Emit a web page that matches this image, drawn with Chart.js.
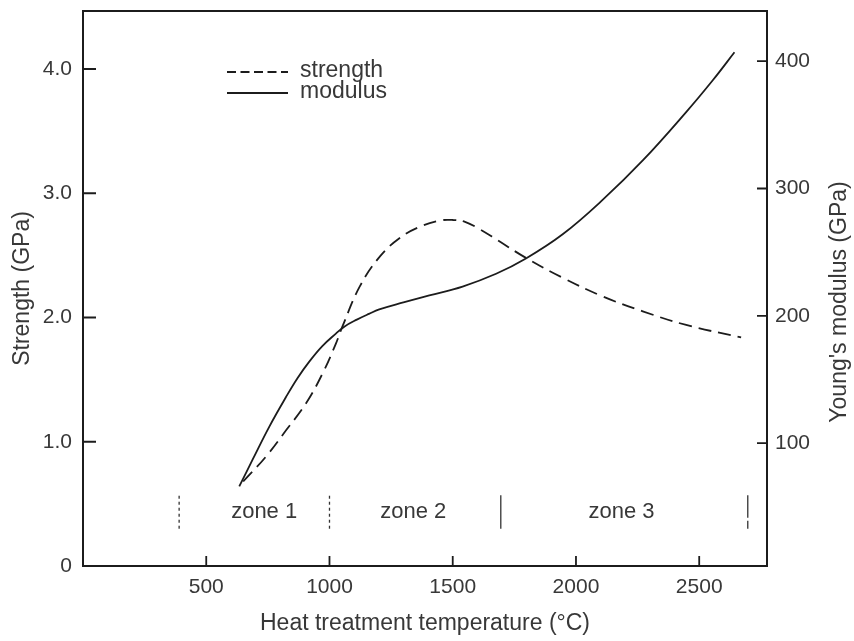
<!DOCTYPE html>
<html><head><meta charset="utf-8">
<script src="https://cdn.jsdelivr.net/npm/chart.js@4.4.0/dist/chart.umd.min.js"></script>
<style>html,body{margin:0;padding:0;background:#fff;}#wrap{width:854px;height:641px;}</style>
</head><body><div id="wrap"><canvas id="c" width="854" height="641"></canvas></div>
<script>
// ---- data ----
const strengthTemps = [650, 742, 823, 905, 972, 1026, 1053, 1123, 1204, 1285, 1366, 1447, 1500, 1550, 1610, 1676, 1797, 1946, 2108, 2271, 2447, 2670];
const strengthGPa   = [0.68, 0.88, 1.09, 1.31, 1.55, 1.79, 1.93, 2.25, 2.49, 2.64, 2.73, 2.78, 2.785, 2.77, 2.71, 2.63, 2.48, 2.32, 2.17, 2.05, 1.94, 1.84];
const modulusTemps  = [634, 688, 756, 823, 870, 918, 970, 1026, 1060, 1111, 1160, 1202, 1300, 1405, 1540, 1676, 1797, 1946, 2108, 2271, 2447, 2555, 2643];
const modulusGPa    = [66, 87, 113, 136, 151, 164, 176, 186, 191.5, 197, 201.5, 205, 210.5, 216, 223, 233, 245, 264, 291, 322, 360, 385, 407];
const zoneBounds    = [390, 1000, 1695, 2697];
const zoneMarkerY   = [0.30, 0.57];
const zoneNames     = ['zone 1', 'zone 2', 'zone 3'];
const zoneCenters   = [735, 1340, 2185];
const zoneLabelY    = 0.435;
const xTicks        = [500, 1000, 1500, 2000, 2500];
const yTicks        = [0, 1, 2, 3, 4];
const y2Ticks       = [100, 200, 300, 400];
const seriesNames   = ['strength', 'modulus'];
const xTitle  = 'Heat treatment temperature (°C)';
const yTitle  = 'Strength (GPa)';
const y2Title = "Young's modulus (GPa)";

// ---- style ----
const FONT = "'Liberation Sans', Arial, Helvetica, sans-serif";
const TXT = '#383838';
const INK = '#1c1c1c';
const markerDashes = [[3, 3], [3, 3], [], [8, 3, 28]];

const toPts = (xs, ys) => xs.map((x, i) => ({x: x, y: ys[i]}));

const datasets = [
  {label: seriesNames[0], data: toPts(strengthTemps, strengthGPa), yAxisID: 'y',
   borderColor: INK, borderWidth: 1.8, borderDash: [13, 7], pointRadius: 0,
   tension: 0.4, fill: false},
  {label: seriesNames[1], data: toPts(modulusTemps, modulusGPa), yAxisID: 'y2',
   borderColor: INK, borderWidth: 1.8, pointRadius: 0,
   tension: 0.4, fill: false}
];
zoneBounds.forEach((b, i) => {
  datasets.push({label: '', data: [{x: b, y: zoneMarkerY[0]}, {x: b, y: zoneMarkerY[1]}],
    yAxisID: 'y', borderColor: '#333', borderWidth: 1.3, borderDash: markerDashes[i], pointRadius: 0});
});

const fixTicks = vals => s => { s.ticks = vals.map(v => ({value: v})); };

const decor = {
  id: 'decor',
  afterDraw(chart) {
    const ctx = chart.ctx, a = chart.chartArea;
    const sx = chart.scales.x, sy = chart.scales.y, sy2 = chart.scales.y2;
    ctx.save();
    // top frame line
    ctx.strokeStyle = INK; ctx.lineWidth = 2;
    ctx.beginPath(); ctx.moveTo(a.left - 1, a.top); ctx.lineTo(a.right + 1, a.top); ctx.stroke();
    // inward tick marks
    ctx.lineWidth = 1.8;
    ctx.beginPath();
    sx.ticks.forEach(t => { const p = sx.getPixelForValue(t.value); ctx.moveTo(p, a.bottom); ctx.lineTo(p, a.bottom - 10); });
    sy.ticks.forEach(t => { if (t.value === 0) return; const p = sy.getPixelForValue(t.value); ctx.moveTo(a.left, p); ctx.lineTo(a.left + 13, p); });
    sy2.ticks.forEach(t => { const p = sy2.getPixelForValue(t.value); ctx.moveTo(a.right, p); ctx.lineTo(a.right - 10, p); });
    ctx.stroke();
    // zone labels
    ctx.fillStyle = TXT; ctx.font = '22px ' + FONT;
    ctx.textAlign = 'center'; ctx.textBaseline = 'middle';
    zoneNames.forEach((n, i) => ctx.fillText(n, sx.getPixelForValue(zoneCenters[i]), sy.getPixelForValue(zoneLabelY)));
    // legend (inside plot)
    const legendRows = [72, 93];
    [0, 1].forEach(i => {
      const ds = chart.data.datasets[i];
      ctx.strokeStyle = ds.borderColor; ctx.lineWidth = 1.8;
      ctx.setLineDash(i === 0 ? [9, 4.5] : []);
      ctx.beginPath(); ctx.moveTo(227, legendRows[i]); ctx.lineTo(288, legendRows[i]); ctx.stroke();
      ctx.setLineDash([]);
      ctx.textAlign = 'left'; ctx.font = '23px ' + FONT;
      ctx.fillText(ds.label, 300, legendRows[i] - 1);
    });
    // right axis title (reads bottom-to-top)
    ctx.translate(840, 302); ctx.rotate(-Math.PI / 2);
    ctx.textAlign = 'center'; ctx.textBaseline = 'middle'; ctx.font = '23px ' + FONT;
    ctx.fillText(y2Title, 0, 0);
    ctx.restore();
  }
};

new Chart(document.getElementById('c'), {
  type: 'line',
  data: {datasets: datasets},
  options: {
    responsive: false, animation: false,
    layout: {padding: {top: 11, left: 0, right: 0, bottom: 0}},
    plugins: {legend: {display: false}, tooltip: {enabled: false}},
    scales: {
      x: {type: 'linear', position: 'bottom', min: 0, max: 2775,
        afterBuildTicks: fixTicks(xTicks),
        afterFit: s => { s.height = 75; s.paddingLeft = 0; s.paddingRight = 0; },
        grid: {display: false, drawTicks: false},
        border: {display: true, color: INK, width: 2},
        ticks: {padding: 9, autoSkip: false, maxRotation: 0, color: TXT, font: {family: FONT, size: 21},
          callback: v => String(v)},
        title: {display: true, text: xTitle, color: TXT, font: {family: FONT, size: 23}, padding: {top: 0, bottom: 4}}
      },
      y: {type: 'linear', position: 'left', min: 0, max: 4.467,
        afterBuildTicks: fixTicks(yTicks),
        afterFit: s => { s.width = 83; s.paddingTop = 0; s.paddingBottom = 0; },
        grid: {display: false, drawTicks: false},
        border: {display: true, color: INK, width: 2},
        ticks: {padding: 11, autoSkip: false, color: TXT, font: {family: FONT, size: 21},
          callback: v => v === 0 ? '0' : v.toFixed(1)},
        title: {display: true, text: yTitle, color: TXT, font: {family: FONT, size: 23}, padding: {top: 9, bottom: 0}}
      },
      y2: {type: 'linear', position: 'right', min: 3.5, max: 439.4,
        afterBuildTicks: fixTicks(y2Ticks),
        afterFit: s => { s.width = 87; s.paddingTop = 0; s.paddingBottom = 0; },
        grid: {display: false, drawTicks: false},
        border: {display: true, color: INK, width: 2},
        ticks: {padding: 8, autoSkip: false, color: TXT, font: {family: FONT, size: 21},
          callback: v => String(v)}
      }
    }
  },
  plugins: [decor]
});
</script>
</body></html>
